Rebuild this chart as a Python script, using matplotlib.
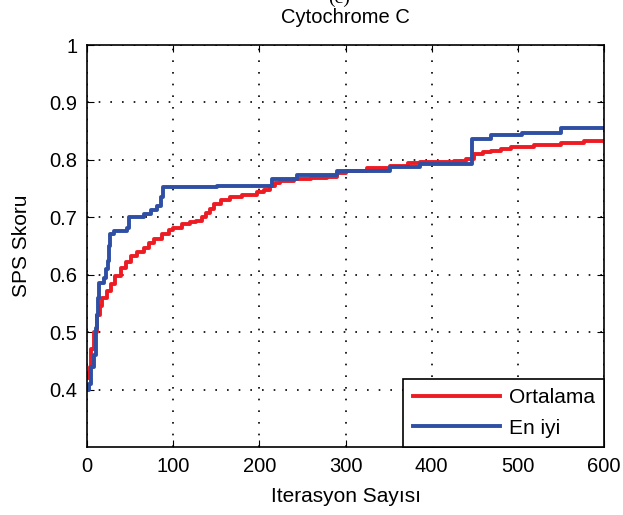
import matplotlib.pyplot as plt

plt.rcParams['font.family'] = ['Liberation Sans', 'DejaVu Sans']

# iteration / score breakpoints (step curves)
ort_x = [0, 2, 4, 5, 8, 12, 15, 18, 23, 28, 33, 39, 45, 51, 58, 66, 72, 78, 87, 95,
         100, 110, 120, 127, 133, 138, 143, 147, 155, 166, 180, 197, 205, 212, 218,
         224, 240, 260, 279, 290, 300, 325, 352, 372, 387, 400, 426, 440, 449, 460,
         469, 480, 492, 519, 550, 577, 600]
ort_y = [0.42, 0.43, 0.44, 0.47, 0.50, 0.53, 0.545, 0.56, 0.572, 0.584, 0.598, 0.612,
         0.622, 0.633, 0.640, 0.647, 0.655, 0.662, 0.671, 0.678, 0.682, 0.688, 0.692,
         0.694, 0.700, 0.708, 0.715, 0.724, 0.730, 0.735, 0.739, 0.744, 0.748, 0.755,
         0.760, 0.764, 0.767, 0.769, 0.771, 0.778, 0.780, 0.785, 0.789, 0.795, 0.797,
         0.797, 0.798, 0.802, 0.810, 0.813, 0.816, 0.819, 0.823, 0.826, 0.829, 0.833,
         0.833]

eniyi_x = [0, 2, 5, 8, 10, 12, 13, 14, 20, 22, 24, 26, 27, 31, 47, 49, 66, 74, 81, 86,
           88, 151, 215, 244, 290, 352, 387, 447, 469, 505, 550, 600]
eniyi_y = [0.40, 0.41, 0.44, 0.46, 0.508, 0.53, 0.56, 0.586, 0.595, 0.61, 0.624, 0.65,
           0.671, 0.677, 0.682, 0.70, 0.706, 0.712, 0.72, 0.735, 0.752, 0.755, 0.767,
           0.774, 0.780, 0.788, 0.793, 0.837, 0.843, 0.847, 0.855, 0.855]

fig = plt.figure(figsize=(6.23, 5.15), dpi=100)
ax = fig.add_axes([0.1396, 0.132, 0.83, 0.7806])

ax.plot(ort_x, ort_y, color='#ed1c24', lw=2.8, drawstyle='steps-post', label='Ortalama')
ax.plot(eniyi_x, eniyi_y, color='#2e4fa3', lw=2.8, drawstyle='steps-post', label='En iyi')

ax.set_xlim(0, 600)
ax.set_ylim(0.3, 1)
ax.set_xticks([0, 100, 200, 300, 400, 500, 600])
ax.set_yticks([0.4, 0.5, 0.6, 0.7, 0.8, 0.9, 1])
ax.set_yticklabels(['0.4', '0.5', '0.6', '0.7', '0.8', '0.9', '1'])
ax.tick_params(direction='in', top=True, right=True, labelsize=14.5, length=5, pad=7)
ax.grid(True, color='black', linestyle=(0, (1, 6)), linewidth=1.2)
for s in ax.spines.values():
    s.set_linewidth(1.2)

ax.set_xlabel('Iterasyon Sayısı', fontsize=15, labelpad=8)
ax.set_ylabel('SPS Skoru', fontsize=15, labelpad=13)
ax.set_title('Cytochrome C', fontsize=14.5, pad=16)
fig.text(0.545, 1 - 3 / 515, '(c)', ha='center', va='baseline', fontsize=14,
         family='Liberation Serif')

leg = ax.legend(loc='lower right', fontsize=15, handlelength=4.2, handletextpad=0.4,
                borderaxespad=0, fancybox=False, framealpha=1, edgecolor='black',
                borderpad=0.45, labelspacing=0.55)
leg.get_frame().set_linewidth(1.2)

fig.savefig('out.png', dpi=100)
